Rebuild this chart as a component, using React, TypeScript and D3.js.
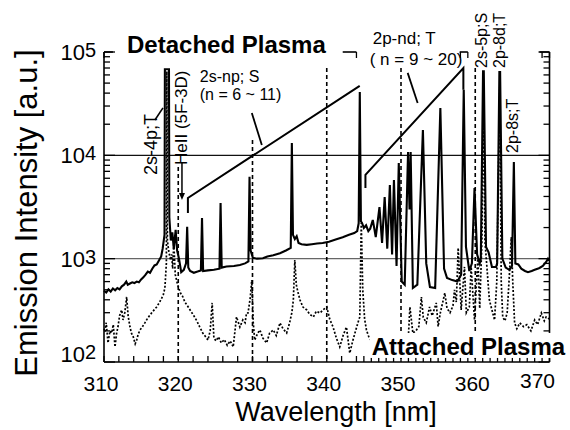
import React from 'react';
import * as d3 from 'd3';

// Detached plasma spectrum (solid): [wavelength nm, intensity a.u.]
const DETACHED: [number, number][] = [
  [310.0, 490], [310.3, 470], [310.6, 505], [310.9, 480], [311.2, 515], [311.5, 495], [311.8, 520],
  [312.1, 505], [312.4, 540], [312.7, 560], [313.0, 600], [313.2, 560], [313.5, 575], [313.8, 590],
  [314.1, 580], [314.4, 600], [314.7, 590], [315.0, 630], [315.3, 660], [315.6, 700], [315.9, 750],
  [316.2, 730], [316.5, 800], [316.8, 860], [317.1, 880], [317.4, 960], [317.7, 1050], [317.9, 1250],
  [318.05, 1500], [318.15, 1700], [318.2, 68000], [318.75, 68000], [318.8, 2500], [319.0, 1500],
  [319.2, 1800], [319.4, 1250], [319.65, 1900], [319.85, 1200], [320.1, 1000], [320.4, 740],
  [320.75, 780], [321.05, 900], [321.2, 2030], [321.35, 820], [321.6, 760], [322.1, 730],
  [322.6, 750], [323.05, 770], [323.2, 2480], [323.35, 760], [324.0, 770], [324.8, 780],
  [325.55, 800], [325.7, 3460], [325.85, 820], [326.5, 840], [327.5, 850], [328.3, 870],
  [329.0, 900], [329.45, 940], [329.6, 6200], [329.75, 1200], [330.05, 1020], [330.6, 1000],
  [331.4, 1010], [332.0, 1050], [332.8, 1080], [333.7, 1130], [334.5, 1200], [335.15, 1270],
  [335.3, 13180], [335.45, 1700], [335.7, 1550], [335.95, 1650], [336.2, 1420], [336.6, 1380],
  [337.3, 1360], [338.0, 1380], [338.7, 1400], [339.45, 1420], [340.3, 1460], [341.2, 1530],
  [342.15, 1610], [343.0, 1700], [343.7, 1770], [344.1, 1850], [344.3, 2200], [344.45, 41000],
  [344.6, 2300], [344.75, 2220], [345.0, 1980], [345.3, 2100], [345.6, 1850], [345.85, 1950],
  [346.2, 2370], [346.6, 1620], [347.1, 3160], [347.45, 1420], [347.8, 3950], [348.15, 1250],
  [348.5, 5170], [348.8, 1100], [349.05, 5780], [349.4, 850], [349.7, 8440], [350.1, 600],
  [350.5, 560], [350.95, 10790], [351.15, 3000], [351.3, 10790], [351.6, 520], [352.2, 560],
  [352.95, 17620], [353.4, 900], [353.9, 530], [354.6, 520], [355.3, 28770], [355.8, 800],
  [356.2, 650], [356.9, 620], [357.6, 600], [358.1, 700], [358.45, 43000], [358.75, 1300],
  [359.2, 760], [359.55, 900], [359.9, 4830], [360.25, 1100], [360.6, 900], [360.75, 1000],
  [361.05, 65000], [361.15, 65000], [361.45, 1300], [361.8, 1150], [362.25, 830], [362.8, 830],
  [362.95, 900], [363.25, 64000], [363.35, 64000], [363.65, 1000], [364.1, 820], [364.6, 780],
  [364.95, 850], [365.2, 8640], [365.4, 900], [365.8, 880], [366.2, 800], [366.7, 760],
  [367.1, 740], [367.6, 760], [368.0, 780], [368.4, 800], [368.65, 813], [369.1, 850],
  [369.55, 930], [369.8, 1000], [370.0, 960],
];

// Attached plasma spectrum (dotted)
const ATTACHED: [number, number][] = [
  [310.0, 210], [310.13, 195], [310.3, 240], [310.54, 153], [310.8, 200], [311.04, 191], [311.25, 230],
  [311.48, 140], [311.7, 190], [311.88, 218], [312.1, 280], [312.38, 319], [312.56, 255], [312.8, 300],
  [313.05, 426], [313.25, 280], [313.5, 218], [313.7, 190], [313.94, 175], [314.2, 150], [314.4, 163],
  [314.6, 185], [314.84, 204], [315.1, 215], [315.5, 239], [315.8, 260], [316.19, 285], [316.6, 310],
  [317.09, 341], [317.5, 380], [317.98, 445], [318.2, 520], [318.4, 900], [318.47, 65000],
  [318.54, 1500], [318.7, 1200], [318.95, 970], [319.1, 1100], [319.25, 800], [319.4, 1420],
  [319.6, 700], [319.86, 582], [320.05, 520], [320.3, 465], [320.6, 430], [320.9, 380], [321.34, 341],
  [321.7, 310], [322.1, 280], [322.5, 250], [322.9, 218], [323.3, 191], [323.7, 175], [324.0, 163],
  [324.3, 200], [324.57, 373], [324.8, 170], [325.1, 160], [325.4, 175], [325.8, 153], [326.2, 165],
  [326.6, 145], [327.0, 160], [327.4, 140], [327.85, 273], [328.3, 218], [328.7, 255], [329.0, 240],
  [329.2, 298], [329.4, 298], [329.7, 420], [329.9, 622], [330.1, 240], [330.3, 163], [330.7, 190],
  [331.0, 204], [331.4, 170], [331.9, 153], [332.3, 190], [332.8, 204], [333.2, 180], [333.7, 239],
  [334.1, 210], [334.6, 191], [335.0, 240], [335.3, 300], [335.5, 398], [335.7, 971], [335.9, 560],
  [336.1, 480], [336.4, 398], [336.8, 340], [337.3, 319], [337.7, 290], [338.2, 273], [338.6, 310],
  [339.1, 298], [339.5, 320], [340.0, 341], [340.4, 260], [340.85, 218], [341.3, 170], [341.75, 140],
  [342.2, 180], [342.65, 218], [343.1, 122], [343.5, 160], [343.8, 191], [344.2, 240], [344.45, 273],
  [344.65, 2216], [344.85, 500], [345.1, 260], [345.35, 204], [345.6, 180], [346.0, 160], [346.5, 150],
  [347.0, 145], [347.5, 150], [348.0, 140], [348.5, 150], [349.0, 160], [349.5, 150], [350.0, 145],
  [350.5, 170], [351.0, 180], [351.2, 341], [351.6, 190], [352.0, 200], [352.4, 220], [352.75, 426],
  [353.0, 270], [353.4, 240], [353.85, 341], [354.2, 280], [354.75, 373], [355.0, 220], [355.3, 300],
  [355.9, 465], [356.2, 330], [356.6, 300], [357.0, 350], [357.2, 498], [357.45, 380], [357.7, 1270],
  [358.1, 319], [358.55, 832], [358.8, 300], [359.2, 340], [359.45, 832], [359.9, 255], [360.35, 1040],
  [360.6, 330], [360.9, 1500], [361.1, 50000], [361.3, 1500], [361.9, 400], [362.1, 350], [362.6, 255],
  [362.9, 600], [363.3, 46000], [363.5, 600], [363.7, 273], [364.0, 250], [364.3, 300], [364.6, 700],
  [364.85, 1620], [365.05, 600], [365.3, 239], [365.6, 210], [366.0, 239], [366.5, 220], [366.95, 230],
  [367.5, 200], [368.0, 255], [368.4, 230], [368.9, 298], [369.3, 250], [369.55, 273], [370.0, 260],
];

const X_LABELS = [310, 320, 330, 340, 350, 360, 370];
const Y_DECADES = [2, 3, 4, 5];
const GRID_LEVELS = [1000, 10000];
const DASHED_AT = [320, 330, 340, 350, 360];
const DASHED_TOP = [7730, 14100, 70000, 70000, 70000];
const TOP_AXIS_SEGMENTS: [number, number][] = [[310, 311.2], [342.15, 344.0], [357.9, 359.0], [368.65, 370]];

const FONT = "'Liberation Sans', Arial, Helvetica, sans-serif";

export default function App() {
  const x = d3.scaleLinear().domain([310, 370]).range([104, 549.5]);
  const y = d3.scaleLog().domain([100, 100000]).range([362, 52]);
  const line = d3.line<[number, number]>().x(d => x(d[0])).y(d => y(d[1]));

  const xTicks = [...d3.range(310, 345, 2), ...d3.range(345, 371, 1)];
  const yTicks = y.ticks();
  const isMajor = (v: number) => Math.abs(Math.log10(v) - Math.round(Math.log10(v))) < 1e-6;

  const seg = (pts: [number, number][]) =>
    pts.map((p, i) => `${i ? 'L' : 'M'}${x(p[0])},${y(p[1])}`).join(' ');

  const rotLabel = (lam: number, val: number, text: string, size: number) => (
    <text
      key={text}
      transform={`translate(${x(lam)},${y(val)}) rotate(-90)`}
      fontSize={size}
      fontFamily={FONT}
    >
      {text}
    </text>
  );

  const heX = x(320.5);
  const heY = y(3700);
  const last = X_LABELS.length - 1;

  return (
    <svg width={570} height={430} style={{ position: 'absolute', left: 0, top: 0, background: '#fff' }}>
      {/* grid lines at 10^3 and 10^4 */}
      {GRID_LEVELS.map((g, i) => (
        <line key={g} x1={x(310)} x2={x(370)} y1={y(g)} y2={y(g)}
          stroke={i === 0 ? '#666' : '#111'} strokeWidth={1.1} />
      ))}

      {/* dashed reference lines */}
      {DASHED_AT.map((d, i) => (
        <line key={d} x1={x(d)} x2={x(d)} y1={y(DASHED_TOP[i])} y2={y(100)}
          stroke="#000" strokeWidth={1.6} strokeDasharray="4,3" />
      ))}

      {/* spectra */}
      <path d={line(ATTACHED) || ''} fill="none" stroke="#000" strokeWidth={1.7} strokeDasharray="2,1.8" />
      <path d={line(DETACHED) || ''} fill="none" stroke="#000" strokeWidth={2.1} strokeLinejoin="miter" />

      {/* axes */}
      <line x1={x(310)} x2={x(310)} y1={y(100000)} y2={y(100)} stroke="#000" strokeWidth={1.6} />
      <line x1={x(370)} x2={x(370)} y1={y(100000)} y2={y(100)} stroke="#000" strokeWidth={1.6} />
      <line x1={x(310)} x2={x(370)} y1={y(100)} y2={y(100)} stroke="#000" strokeWidth={1.6} />
      {TOP_AXIS_SEGMENTS.map(([a, b]) => (
        <line key={a} x1={x(a)} x2={x(b)} y1={y(100000)} y2={y(100000)} stroke="#000" strokeWidth={1.6} />
      ))}

      {yTicks.map(v => {
        const len = isMajor(v) ? 11 : 6;
        return (
          <g key={v}>
            <line x1={x(310)} x2={x(310) + len} y1={y(v)} y2={y(v)} stroke="#000" strokeWidth={1.3} />
            <line x1={x(370)} x2={x(370) - len} y1={y(v)} y2={y(v)} stroke="#000" strokeWidth={1.3} />
          </g>
        );
      })}
      {xTicks.map(t => (
        <line key={t} x1={x(t)} x2={x(t)} y1={y(100)} y2={y(100) - 6} stroke="#000" strokeWidth={1.3} />
      ))}
      {xTicks.filter(t => TOP_AXIS_SEGMENTS.some(([a, b]) => t >= a && t <= b)).map(t => (
        <line key={'top' + t} x1={x(t)} x2={x(t)} y1={y(100000)} y2={y(100000) + 6} stroke="#000" strokeWidth={1.3} />
      ))}

      {/* tick labels */}
      {X_LABELS.map((t, i) => (
        <text key={t} x={x(t) - (i === last ? 12 : 3)} y={y(100) + (i === last ? 26 : 29)}
          textAnchor="middle" fontSize={21} fontFamily={FONT}>{t}</text>
      ))}
      {Y_DECADES.map(e => (
        <text key={e} x={96} y={y(Math.pow(10, e)) + (e === 2 ? 0 : 8)} textAnchor="end" fontSize={22} fontFamily={FONT}>
          10<tspan fontSize={20} dy={-3}>{e}</tspan>
        </text>
      ))}

      {/* axis titles */}
      <text transform="translate(37,213) rotate(-90)" textAnchor="middle" fontSize={31} fontFamily={FONT}>
        Emission Intensity [a.u.]
      </text>
      <text x={336} y={421} textAnchor="middle" fontSize={27} fontFamily={FONT}>Wavelength [nm]</text>

      {/* plasma labels */}
      <text x={x(313.1)} y={y(98000)} fontSize={24} fontWeight="bold" fontFamily={FONT}>Detached Plasma</text>
      <rect x={x(346.06) - 2} y={y(117) - 22} width={197} height={25} fill="#fff" />
      <text x={x(346.06)} y={y(117)} fontSize={24} fontWeight="bold" fontFamily={FONT}>Attached Plasma</text>

      {/* series annotations */}
      <text x={x(322.9)} y={y(51400)} fontSize={16} fontFamily={FONT}>2s-np; S</text>
      <text x={x(322.9)} y={y(34400)} fontSize={16} fontFamily={FONT}>(n = 6 ~ 11)</text>
      <text x={x(346.19)} y={y(119700)} fontSize={17} fontFamily={FONT}>2p-nd; T</text>
      <text x={x(345.79)} y={y(75000)} fontSize={17} fontFamily={FONT}>( n = 9 ~ 20)</text>

      <path d={seg([[329.91, 25700], [331.26, 12600]])} stroke="#000" strokeWidth={1.8} fill="none" />
      <path d={seg([[321.3, 2770], [321.3, 3870], [344.44, 47000]])} stroke="#000" strokeWidth={2} fill="none" />
      <path d={seg([[350.9, 62800], [352.24, 32100]])} stroke="#000" strokeWidth={1.8} fill="none" />
      <path d={seg([[345.21, 4830], [345.21, 6460], [358.4, 70000], [358.4, 43000]])} stroke="#000" strokeWidth={2} fill="none" />

      {/* line labels */}
      {rotLabel(317.13, 6460, '2s-4p;T', 18)}
      <path d={seg([[316.86, 22000], [317.94, 28800]])} stroke="#000" strokeWidth={1.6} fill="none" />
      {rotLabel(321.17, 8070, 'HeII (5F-3D)', 17)}
      <line x1={heX} x2={heX} y1={y(8430)} y2={heY - 5} stroke="#000" strokeWidth={1.5} />
      <path d={`M${heX - 3},${heY - 7} L${heX + 3},${heY - 7} L${heX},${heY} Z`} fill="#000" />
      {rotLabel(361.53, 70000, '2s-5p;S', 16)}
      {rotLabel(363.95, 70000, '2p-8d;T', 16)}
      {rotLabel(365.7, 10540, '2p-8s;T', 16)}
    </svg>
  );
}
